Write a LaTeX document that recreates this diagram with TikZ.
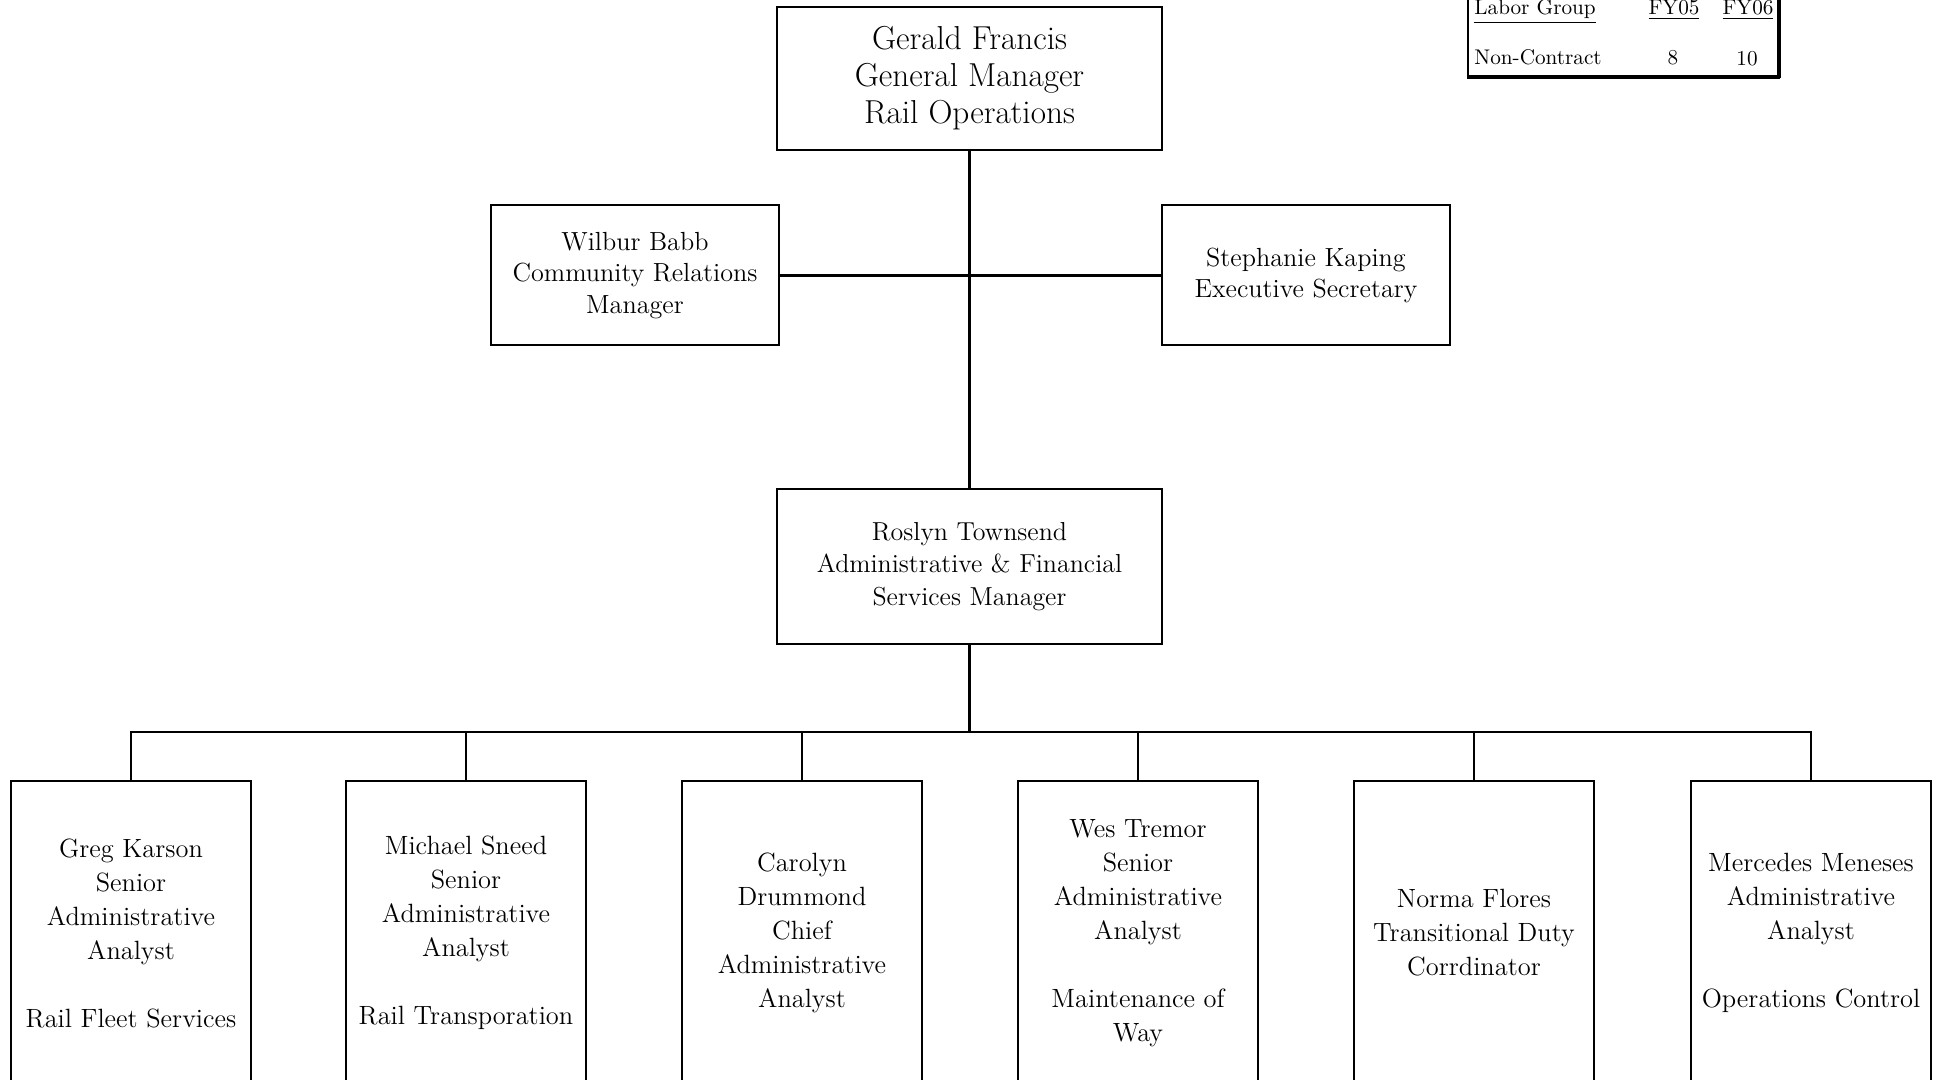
\documentclass[tikz,border=0pt]{standalone}
\begin{document}
\begin{tikzpicture}[x=0.5pt,y=-0.5pt,
  box/.style={draw,line width=1pt,align=center,inner sep=0pt},
  conn/.style={line width=1.1pt},
  topfont/.style={font=\fontsize{16.6}{18.5}\selectfont},
  midfont/.style={font=\fontsize{13.1}{15.8}\selectfont},
  rtfont/.style={font=\fontsize{13}{16.4}\selectfont},
  botfont/.style={font=\fontsize{13.2}{17}\selectfont},
  tabfont/.style={font=\fontsize{10.6}{12}\selectfont,inner sep=0pt}]
\clip (0,0) rectangle (1938,1080);
\fill[white] (0,0) rectangle (1938,1080);

% top level
\node[box,topfont,minimum width=192.5pt,minimum height=71.5pt] (gm) at (969.5,78.5)
  {Gerald Francis\\General Manager\\Rail Operations};
\node[box,midfont,minimum width=144pt,minimum height=70pt] (wb) at (635,275.5)
  {Wilbur Babb\\Community Relations\\Manager};
\node[box,midfont,minimum width=144pt,minimum height=70pt] (sk) at (1306,275.5)
  {Stephanie Kaping\\Executive Secretary};
\node[box,rtfont,minimum width=192.5pt,minimum height=77.5pt] (rt) at (969.5,566.5)
  {Roslyn Townsend\\Administrative \& Financial\\Services Manager};

% bottom row
\foreach \n/\x/\t in {
  b1/131/{Greg Karson\\Senior\\Administrative\\Analyst\\[17pt]Rail Fleet Services},
  b2/466/{Michael Sneed\\Senior\\Administrative\\Analyst\\[17pt]Rail Transporation},
  b3/802/{Carolyn\\Drummond\\Chief\\Administrative\\Analyst},
  b4/1138/{Wes Tremor\\Senior\\Administrative\\Analyst\\[17pt]Maintenance of\\Way},
  b5/1474/{Norma Flores\\Transitional Duty\\Corrdinator},
  b6/1811/{Mercedes Meneses\\Administrative\\Analyst\\[17pt]Operations Control}}
  \node[box,botfont,minimum width=120pt,minimum height=152pt] (\n) at (\x,933) {\t};

% connectors
\coordinate (bus) at (969.5,732);
\draw[conn] (gm.south) -- (rt.north);
\draw[conn] (wb.east) -- (sk.west);
\draw[conn] (rt.south) -- (bus);
\foreach \n in {b1,b2,b3,b4,b5,b6}
  \draw[conn] (\n.north) |- (bus);

% labor table
\node[tabfont,anchor=base west] (lg) at (1474,15) {\underline{Labor Group}};
\node[tabfont,anchor=base] (fy5) at (1674,15) {\underline{FY05}};
\node[tabfont,anchor=base] (fy6) at (1748,15) {\underline{FY06}};
\node[tabfont,anchor=base west] (nc) at (1474,65) {Non-Contract};
\node[tabfont,anchor=base] (v5) at (1673,65) {8};
\node[tabfont,anchor=base] (v6) at (1747,66) {10};
\draw[line width=0.8pt] (1468,-5) -- (1468,77);
\draw[line width=1.8pt] (1467,77) -- (1780,77);
\draw[line width=1.6pt] (1779,-5) -- (1779,78);
\end{tikzpicture}
\end{document}
